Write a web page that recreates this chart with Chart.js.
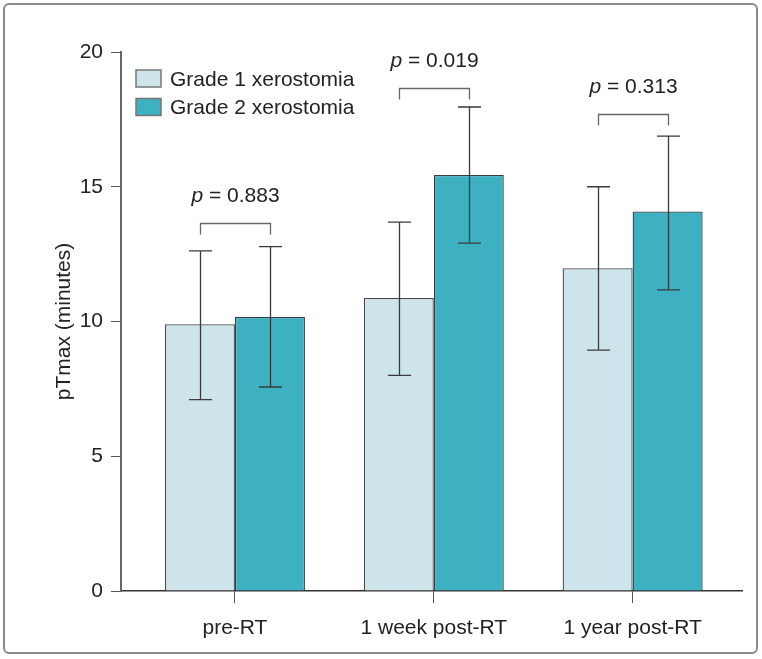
<!DOCTYPE html>
<html>
<head>
<meta charset="utf-8">
<script src="https://cdn.jsdelivr.net/npm/chart.js@4"></script>
<style>
html,body{margin:0;padding:0;background:#fff;}
canvas{display:block;}
</style>
</head>
<body>
<canvas id="c" width="762" height="659"></canvas>
<script>
const categories = ['pre-RT', '1 week post-RT', '1 year post-RT'];
const seriesNames = ['Grade 1 xerostomia', 'Grade 2 xerostomia'];
const grade1Mean = [9.9, 10.87, 11.98];
const grade1Low = [7.1, 8.0, 8.94];
const grade1High = [12.62, 13.69, 15.0];
const grade2Mean = [10.17, 15.44, 14.08];
const grade2Low = [7.57, 12.91, 11.17];
const grade2High = [12.78, 17.96, 16.88];
const pValues = ['0.883', '0.019', '0.313'];
const bracketLevels = [13.65, 18.65, 17.7];
const yTickValues = [0, 5, 10, 15, 20];

const FONT = '"Liberation Sans", Arial, sans-serif';
const TEXT = '#222';

const errorData = [
  {low: grade1Low, high: grade1High},
  {low: grade2Low, high: grade2High}
];

const overlay = {
  id: 'overlay',
  beforeDraw(chart) {
    const ctx = chart.ctx;
    ctx.save();
    ctx.strokeStyle = '#8a8a8a';
    ctx.lineWidth = 2;
    ctx.beginPath();
    ctx.roundRect(4, 4, 753, 649, 5);
    ctx.stroke();
    ctx.restore();
  },
  afterDatasetsDraw(chart) {
    const ctx = chart.ctx;
    const y = chart.scales.y;
    ctx.save();
    // error bars
    ctx.strokeStyle = '#3a3a3a';
    ctx.lineWidth = 1.3;
    errorData.forEach((e, di) => {
      const meta = chart.getDatasetMeta(di);
      meta.data.forEach((bar, i) => {
        const x = Math.round(bar.x) + 0.5;
        const yl = y.getPixelForValue(e.low[i]);
        const yh = y.getPixelForValue(e.high[i]);
        ctx.beginPath();
        ctx.moveTo(x, yl); ctx.lineTo(x, yh);
        ctx.moveTo(x - 11.5, yl); ctx.lineTo(x + 11.5, yl);
        ctx.moveTo(x - 11.5, yh); ctx.lineTo(x + 11.5, yh);
        ctx.stroke();
      });
    });
    // brackets and p labels
    const m0 = chart.getDatasetMeta(0), m1 = chart.getDatasetMeta(1);
    ctx.strokeStyle = '#666';
    ctx.lineWidth = 1.3;
    categories.forEach((c, i) => {
      const x0 = Math.round(m0.data[i].x) + 0.5;
      const x1 = Math.round(m1.data[i].x) + 0.5;
      const yt = Math.round(y.getPixelForValue(bracketLevels[i])) + 0.5;
      ctx.beginPath();
      ctx.moveTo(x0, yt + 11); ctx.lineTo(x0, yt); ctx.lineTo(x1, yt); ctx.lineTo(x1, yt + 11);
      ctx.stroke();
      const italic = 'italic 21px ' + FONT;
      const normal = '21px ' + FONT;
      const rest = ' = ' + pValues[i];
      ctx.font = italic;
      const wp = ctx.measureText('p').width;
      ctx.font = normal;
      const wr = ctx.measureText(rest).width;
      const cx = (x0 + x1) / 2;
      const sx = cx - (wp + wr) / 2;
      const ty = yt - 27;
      ctx.fillStyle = TEXT;
      ctx.textBaseline = 'middle';
      ctx.textAlign = 'left';
      ctx.font = italic;
      ctx.fillText('p', sx, ty);
      ctx.font = normal;
      ctx.fillText(rest, sx + wp, ty);
    });
    // legend
    chart.data.datasets.forEach((ds, i) => {
      const by = 70 + i * 28.5;
      ctx.fillStyle = ds.backgroundColor;
      ctx.fillRect(136, by, 25, 17);
      ctx.strokeStyle = '#777';
      ctx.lineWidth = 1.5;
      ctx.strokeRect(136, by, 25, 17);
      ctx.fillStyle = TEXT;
      ctx.font = '21px ' + FONT;
      ctx.textBaseline = 'middle';
      ctx.textAlign = 'left';
      ctx.fillText(ds.label, 170, by + 10);
    });
    ctx.restore();
  }
};

new Chart(document.getElementById('c'), {
  type: 'bar',
  data: {
    datasets: [
      {
        label: seriesNames[0],
        data: grade1Mean.map((v, i) => ({x: i, y: v})),
        backgroundColor: '#cde4ea',
        borderColor: '#4a4a4a',
        borderWidth: 1.3
      },
      {
        label: seriesNames[1],
        data: grade2Mean.map((v, i) => ({x: i, y: v})),
        backgroundColor: '#3db0c2',
        borderColor: '#2f3f44',
        borderWidth: 1.3
      }
    ]
  },
  options: {
    responsive: false,
    animation: false,
    devicePixelRatio: 1,
    categoryPercentage: 0.704,
    barPercentage: 1,
    layout: {padding: {left: 0, top: 52, right: 20, bottom: 0}},
    plugins: {legend: {display: false}, tooltip: {enabled: false}},
    scales: {
      x: {
        type: 'linear',
        min: -0.573,
        max: 2.55,
        offset: false,
        afterBuildTicks(scale) { scale.ticks = categories.map((c, i) => ({value: i})); },
        afterFit(scale) { scale.height = 68; },
        ticks: {
          autoSkip: false,
          maxRotation: 0,
          padding: 13,
          color: TEXT,
          font: {family: FONT, size: 21},
          callback: (v) => categories[v]
        },
        grid: {drawOnChartArea: false, drawTicks: true, tickLength: 12, color: '#555', offset: false},
        border: {color: '#333', width: 1.5}
      },
      y: {
        min: 0,
        max: 20,
        afterBuildTicks(scale) { scale.ticks = yTickValues.map(v => ({value: v})); },
        afterFit(scale) { scale.width = 121; },
        ticks: {
          padding: 8,
          color: TEXT,
          font: {family: FONT, size: 21}
        },
        grid: {drawOnChartArea: false, drawTicks: true, tickLength: 10, color: '#555'},
        border: {color: '#666', width: 2},
        title: {
          display: true,
          text: 'pTmax (minutes)',
          color: TEXT,
          font: {family: FONT, size: 21},
          padding: {top: 52, bottom: 0}
        }
      }
    }
  },
  plugins: [overlay]
});
</script>
</body>
</html>
